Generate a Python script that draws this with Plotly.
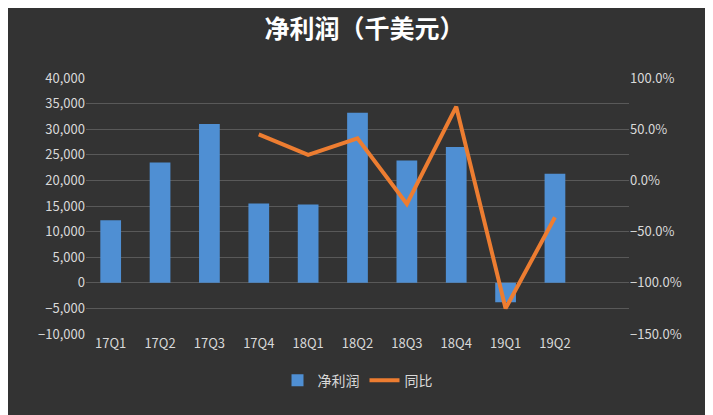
import plotly.graph_objects as go

quarters = ["17Q1","17Q2","17Q3","17Q4","18Q1","18Q2","18Q3","18Q4","19Q1","19Q2"]
profit = [12200, 23500, 31000, 15500, 15300, 33200, 23900, 26500, -3800, 21300]
yoy = [None, None, None, 45, 25, 41, -23, 72, -125, -36]

fig = go.Figure()
fig.add_trace(go.Bar(x=quarters, y=profit, name="净利润", width=0.42,
                     marker=dict(color="#4f8fd3", line=dict(width=0))))
fig.add_trace(go.Scatter(x=quarters, y=yoy, name="同比", yaxis="y2", mode="lines",
                         line=dict(color="#ed7d31", width=4), connectgaps=False))
font = "Noto Sans CJK SC"
fig.update_layout(
    width=713, height=415, margin=dict(l=78, r=92, t=70, b=89),
    paper_bgcolor="#333333", plot_bgcolor="rgba(0,0,0,0)",
    font=dict(family=font, color="#d9d9d9", size=13),
    title=dict(text="<b>净利润（千美元）</b>", x=0.5, y=0.97, yanchor="top",
               font=dict(size=25, color="white", family=font)),
    xaxis=dict(type="category", categoryorder="array", categoryarray=quarters,
               range=[-0.5, 10.5], showgrid=False, ticks="", tickfont=dict(size=13)),
    yaxis=dict(range=[-10000, 40000], dtick=5000, tickformat=",d", gridcolor="#595959",
               zeroline=False, tickfont=dict(size=13)),
    yaxis2=dict(range=[-150, 100], dtick=50, overlaying="y", side="right",
                showgrid=False, zeroline=False, ticksuffix=".0%", tickfont=dict(size=13)),
    legend=dict(orientation="h", x=0.5, xanchor="center", y=-0.12, yanchor="top",
                font=dict(size=14)),
    bargap=0.5,
)
fig.write_html("out.html")
